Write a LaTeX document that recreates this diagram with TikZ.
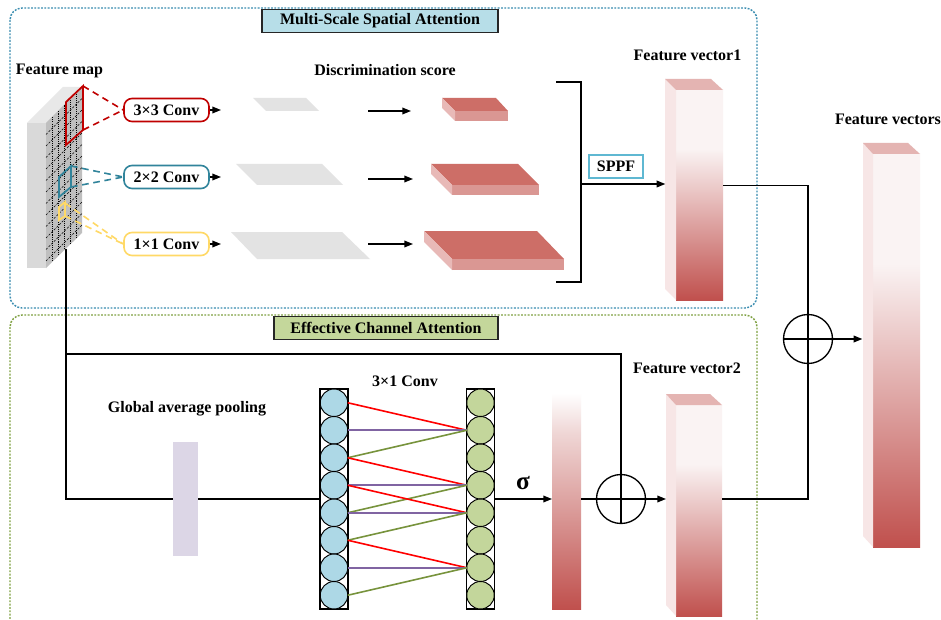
\documentclass[tikz,border=0pt]{standalone}
\usepackage{fontspec}
\setmainfont{Liberation Serif}
\usetikzlibrary{arrows.meta,calc}
\definecolor{bluebox}{HTML}{3A8DB0}
\definecolor{greenbox}{HTML}{7FA142}
\definecolor{titleblue}{HTML}{B7DEE8}
\definecolor{titlegreen}{HTML}{C4D79B}
\definecolor{convred}{HTML}{C00000}
\definecolor{convblue}{HTML}{31849B}
\definecolor{convyellow}{HTML}{FFD966}
\definecolor{sppfblue}{HTML}{5FB8D2}
\definecolor{planegray}{HTML}{E3E3E3}
\definecolor{slabtop}{HTML}{CD6E67}
\definecolor{slabfront}{HTML}{DA9793}
\definecolor{slabside}{HTML}{E8B9B7}
\definecolor{colred}{HTML}{C0504D}
\definecolor{colside}{HTML}{F7E6E6}
\definecolor{coltop}{HTML}{E4B4B2}
\definecolor{colwhite}{HTML}{FAF3F3}
\definecolor{colpale}{HTML}{EFD6D5}
\definecolor{gapcol}{HTML}{DCD6E6}
\definecolor{circblue}{HTML}{ADD8E6}
\definecolor{circgreen}{HTML}{C3D69B}
\definecolor{lnred}{HTML}{FF0000}
\definecolor{lnpurple}{HTML}{8064A2}
\definecolor{lngreen}{HTML}{77933C}
\definecolor{fmside}{HTML}{D9D9D9}
\definecolor{fmtop}{HTML}{E8E8E8}
\definecolor{fmgrid}{HTML}{BFBFBF}
\pgfdeclareverticalshading{fvshade}{100bp}{color(0bp)=(colred); color(25bp)=(colred); color(61bp)=(colwhite); color(75bp)=(colwhite); color(100bp)=(colwhite)}
\pgfdeclareverticalshading{sigshade}{100bp}{color(0bp)=(colred); color(25bp)=(colred); color(65bp)=(colpale); color(74bp)=(white); color(100bp)=(white)}
\tikzset{
  lbl/.style={font=\fontsize{12}{14}\selectfont\bfseries, inner sep=0pt},
  convbox/.style={lbl, draw, line width=1.2pt, rounded corners=6pt, minimum width=63.75pt, minimum height=17.25pt, fill=white},
  titlebox/.style={lbl, draw=black!85, line width=1pt, minimum height=17.5pt},
  arr/.style={line width=1pt, -{Triangle[length=6.5pt,width=5pt]}},
  conn/.style={line width=1pt},
  dotbox/.style={line width=1.1pt, dash pattern=on 1.4pt off 1.1pt, rounded corners=9pt},
  fvbar/.style={shade, shading=fvshade, inner sep=0pt, outer sep=0pt},
  bluecirc/.style={circle, draw, line width=0.7pt, fill=circblue, minimum size=20.6pt, inner sep=0pt, outer sep=0pt},
  greencirc/.style={circle, draw, line width=0.7pt, fill=circgreen, minimum size=20.6pt, inner sep=0pt, outer sep=0pt},
  opcirc/.style={circle, draw, line width=1pt, minimum size=36.75pt, inner sep=0pt, outer sep=0pt},
  convdash/.style={line width=1.2pt, dash pattern=on 5pt off 3.5pt},
  wline/.style={line width=1.2pt}
}
\begin{document}
\begin{tikzpicture}[x=0.75pt,y=-0.75pt]
\useasboundingbox (0,0) rectangle (941,620);
\clip (0,0) rectangle (941,620);
\fill[white] (0,0) rectangle (941,620);
% dotted frames
\draw[dotbox, bluebox] (10,8) rectangle (757,308);
\draw[dotbox, greenbox] (10,315) rectangle (757,640);
\node[titlebox, fill=titleblue, minimum width=177pt] (t1) at (380,21) {Multi-Scale Spatial Attention};
\node[titlebox, fill=titlegreen, minimum width=168pt] (t2) at (386,328) {Effective Channel Attention};
% feature map slab
\fill[fmside] (27,123) rectangle (46,268);
\fill[fmtop] (27,123) -- (46,123) -- (82,87) -- (63,87) -- cycle;
\fill[fmgrid] (46,123) -- (82,87) -- (82,233) -- (46,268) -- cycle;
\foreach \xx in {52,58,64,70,76}
  \draw[line width=0.5pt, dash pattern=on 0.8pt off 0.8pt] (\xx,{123-(\xx-46)*35/36}) -- (\xx,{268-(\xx-46)*35/36});
\foreach \k in {1,...,12}
  \draw[line width=0.5pt, dash pattern=on 1.6pt off 1.2pt] (46,{123+11.5*\k}) -- (82,{87+11.5*\k});
\node[lbl] (fmlabel) at (59.5,71) {Feature map};
% conv boxes
\node[convbox, draw=convred] (c3) at (166.5,110) {3×3 Conv};
\node[convbox, draw=convblue] (c2) at (166.5,177) {2×2 Conv};
\node[convbox, draw=convyellow] (c1) at (166.5,244) {1×1 Conv};
% receptive windows
\draw[convred, line width=1.3pt] (66,102) -- (83,86) -- (83,130) -- (66,145) -- cycle;
\coordinate (r1) at (83,86); \coordinate (r2) at (83,130);
\draw[convred, convdash] (r1) -- (c3.west);
\draw[convred, convdash] (r2) -- (c3.west);
\draw[convblue, line width=1.3pt] (59,177) -- (71,166) -- (71,187) -- (59,197) -- cycle;
\coordinate (q1) at (71,166); \coordinate (q2) at (71,187);
\draw[convblue, convdash] (q1) -- (c2.west);
\draw[convblue, convdash] (q2) -- (c2.west);
\draw[convyellow, line width=1.3pt] (59,207) -- (65,202) -- (65,216) -- (59,220) -- cycle;
\coordinate (y1) at (65,203); \coordinate (y2) at (65,216);
\draw[convyellow, convdash] (y1) -- (c1.west);
\draw[convyellow, convdash] (y2) -- (c1.west);
% conv outputs
\coordinate (o3) at (221,110); \coordinate (o2) at (221,177); \coordinate (o1) at (221,244);
\draw[arr] (c3.east) -- (o3);
\draw[arr] (c2.east) -- (o2);
\draw[arr] (c1.east) -- (o1);
% gray planes
\fill[planegray] (253,98) -- (306,98) -- (319,111) -- (266,111) -- cycle;
\fill[planegray] (236,164) -- (322,164) -- (343,185) -- (257,185) -- cycle;
\fill[planegray] (231,232) -- (342,232) -- (370,259) -- (257,259) -- cycle;
% arrows to scores
\coordinate (a1s) at (368,111); \coordinate (a1e) at (411,111);
\coordinate (a2s) at (368,179); \coordinate (a2e) at (413,179);
\coordinate (a3s) at (368,244); \coordinate (a3e) at (413,244);
\draw[arr] (a1s) -- (a1e);
\draw[arr] (a2s) -- (a2e);
\draw[arr] (a3s) -- (a3e);
\node[lbl] (dslabel) at (385,70) {Discrimination score};
% red slabs
\fill[slabtop] (442,98) -- (496,98) -- (508,111) -- (455,111) -- cycle;
\fill[slabfront] (455,111) rectangle (508,121);
\fill[slabside] (442,98) -- (455,111) -- (455,121) -- (442,108) -- cycle;
\fill[slabtop] (431,164) -- (518,164) -- (539,185) -- (452,185) -- cycle;
\fill[slabfront] (452,185) rectangle (539,195);
\fill[slabside] (431,164) -- (452,185) -- (452,195) -- (431,174) -- cycle;
\fill[slabtop] (424,231) -- (537,231) -- (564,259) -- (452,259) -- cycle;
\fill[slabfront] (452,259) rectangle (564,270);
\fill[slabside] (424,231) -- (452,259) -- (452,270) -- (424,242) -- cycle;
% bracket
\draw[wline] (556,82) -- (581,82) -- (581,282) -- (556,282);
\coordinate (brk) at (581,184);
\node[lbl, draw=sppfblue, line width=1pt, fill=white, minimum width=40.5pt, minimum height=17.25pt] (sppf) at (616,166.5) {SPPF};
% feature vector 1
\node[fvbar, minimum width=35.25pt, minimum height=157.5pt] (fv1) at (699.5,195) {};
\fill[colside] (fv1.north west) -- ++(-11,-11) -- ($(fv1.south west)+(-11,-11)$) -- (fv1.south west) -- cycle;
\fill[coltop] (fv1.north west) -- ++(-11,-11) -- ($(fv1.north east)+(-12,-11)$) -- (fv1.north east) -- cycle;
\node[lbl] (fv1label) at (687.5,55) {Feature vector1};
\draw[arr, shorten >=8pt] (brk) -- (brk -| fv1.west);
% feature vectors (final)
\node[fvbar, minimum width=35.25pt, minimum height=294.75pt] (fvs) at (896.5,350.5) {};
\fill[colside] (fvs.north west) -- ++(-10,-11) -- ($(fvs.south west)+(-10,-11)$) -- (fvs.south west) -- cycle;
\fill[coltop] (fvs.north west) -- ++(-10,-11) -- ($(fvs.north east)+(-12,-11)$) -- (fvs.north east) -- cycle;
\node[lbl] (fvslabel) at (888,119) {Feature vectors};
% ECA part
\node[lbl] (gaplabel) at (187,409) {Global average pooling};
\node[fill=gapcol, minimum width=18.75pt, minimum height=85.5pt, inner sep=0pt, outer sep=0pt] (gap) at (185.5,499) {};
\node[draw, line width=0.8pt, minimum width=21pt, minimum height=165pt, inner sep=0pt, outer sep=0pt] (bcol) at (334,499) {};
\node[draw, line width=0.8pt, minimum width=21pt, minimum height=165pt, inner sep=0pt, outer sep=0pt] (gcol) at (480.5,499) {};
\foreach \i in {0,...,7} {
  \node[bluecirc] (b\i) at (334,{402.75+27.5*\i}) {};
  \node[greencirc] (g\i) at (480.5,{402.75+27.5*\i}) {};
}
\node[lbl] (c31label) at (405,381) {3×1 Conv};
\draw[lnred, wline] (b0.east) -- (g1.west);
\draw[lnpurple, wline] (b1.east) -- (g1.west);
\draw[lngreen, wline] (b2.east) -- (g1.west);
\draw[lnred, wline] (b2.east) -- (g3.west);
\draw[lnpurple, wline] (b3.east) -- (g3.west);
\draw[lngreen, wline] (b4.east) -- (g3.west);
\draw[lnred, wline] (b3.east) -- (g4.west);
\draw[lnpurple, wline] (b4.east) -- (g4.west);
\draw[lngreen, wline] (b5.east) -- (g4.west);
\draw[lnred, wline] (b5.east) -- (g6.west);
\draw[lnpurple, wline] (b6.east) -- (g6.west);
\draw[lngreen, wline] (b7.east) -- (g6.west);
% sigma bar
\node[shade, shading=sigshade, minimum width=21.75pt, minimum height=165pt, inner sep=0pt, outer sep=0pt] (sig) at (566.5,499) {};
\node[font=\fontsize{19}{21}\selectfont\bfseries, inner sep=0pt] (sigma) at (523,483) {σ};
% feature vector 2
\node[fvbar, minimum width=34.5pt, minimum height=158.25pt] (fv2) at (699,510.5) {};
\fill[colside] (fv2.north west) -- ++(-10,-11) -- ($(fv2.south west)+(-10,-11)$) -- (fv2.south west) -- cycle;
\fill[coltop] (fv2.north west) -- ++(-10,-11) -- ($(fv2.north east)+(-12,-11)$) -- (fv2.north east) -- cycle;
\node[lbl] (fv2label) at (687,368) {Feature vector2};
% operators
\node[opcirc] (op1) at (621,499) {};
\node[opcirc] (op2) at (808,339) {};
\draw[conn] (op1.north) -- (op1.south);
\draw[conn] (op1.west) -- (op1.east);
\draw[conn] (op2.north) -- (op2.south);
\draw[conn] (op2.west) -- (op2.east);
% connectors
\coordinate (fmb) at (66,249);
\coordinate (br) at (66,354);
\draw[conn] (fmb) |- (gap.west);
\draw[conn] (gap.east) -- (bcol.west);
\draw[conn] (br) -| (op1.north);
\draw[arr] (gcol.east) -- (sig.west);
\draw[conn] (sig.east) -- (op1.west);
\draw[arr, shorten >=7.5pt] (op1.east) -- (op1.east -| fv2.west);
\draw[conn] (fv2.east |- op1.center) -| (op2.south);
\draw[conn] ([yshift=7pt]fv1.east) -| (op2.north);
\draw[arr, shorten >=8pt] (op2.east) -- (op2.east -| fvs.west);
\end{tikzpicture}
\end{document}
